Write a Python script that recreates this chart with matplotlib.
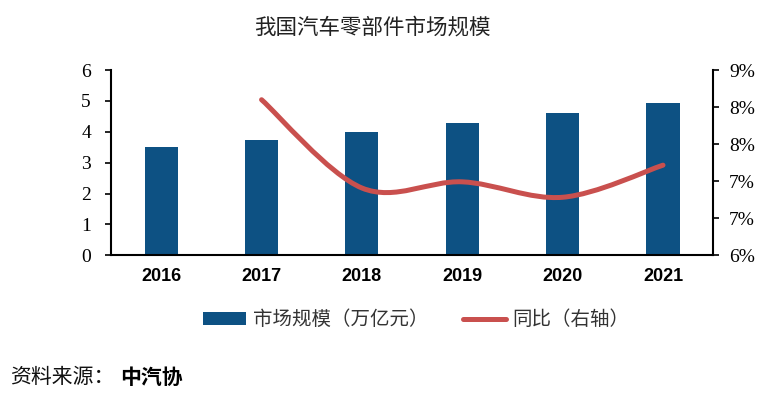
import matplotlib
matplotlib.use("Agg")
import matplotlib.pyplot as plt
from matplotlib.path import Path
from matplotlib.patches import PathPatch
from matplotlib.lines import Line2D
from matplotlib.patches import Patch
import numpy as np

plt.rcParams['font.family'] = ['Noto Sans CJK SC', 'DejaVu Sans']

years = ['2016', '2017', '2018', '2019', '2020', '2021']
market_size = [3.5, 3.75, 4.0, 4.3, 4.6, 4.92]
yoy_years = ['2017', '2018', '2019', '2020', '2021']
yoy = [8.52, 7.09, 7.19, 6.94, 7.46]
left_ticks = [0, 1, 2, 3, 4, 5, 6]
right_ticks = [6.0, 6.6, 7.2, 7.8, 8.4, 9.0]
right_labels = ['6%', '7%', '7%', '8%', '8%', '9%']

bar_color = '#0D5183'
line_color = '#C9504E'

fig = plt.figure(figsize=(7.71, 3.96), dpi=100)
ax = fig.add_axes([0.144, 0.3553, 0.781, 0.4677])
ax2 = ax.twinx()

x = np.arange(len(years))
ax.bar(x, market_size, width=0.33, color=bar_color, zorder=2)
ax.set_xlim(-0.5, len(years) - 0.5)
ax.set_ylim(0, 6)
ax.set_yticks(left_ticks)
ax.set_yticklabels([str(t) for t in left_ticks], fontfamily='Liberation Serif', fontsize=14)
ax.set_xticks(x)
ax.set_xticklabels(years, fontfamily='Liberation Sans', fontweight='bold', fontsize=13)
ax.tick_params(axis='x', length=0, pad=9)
ax.tick_params(axis='y', direction='out', length=4.5, width=1.2, pad=10)

# smoothed line (Bezier through data points)
lx = np.array([years.index(y) for y in yoy_years], dtype=float)
ly = np.array(yoy, dtype=float)
verts = [(lx[0], ly[0])]
codes = [Path.MOVETO]
n = len(lx)
for i in range(n - 1):
    p0 = np.array([lx[max(i - 1, 0)], ly[max(i - 1, 0)]])
    p1 = np.array([lx[i], ly[i]])
    p2 = np.array([lx[i + 1], ly[i + 1]])
    p3 = np.array([lx[min(i + 2, n - 1)], ly[min(i + 2, n - 1)]])
    c1 = p1 + (p2 - p0) / 6.0
    c2 = p2 - (p3 - p1) / 6.0
    verts += [tuple(c1), tuple(c2), tuple(p2)]
    codes += [Path.CURVE4] * 3
path = Path(verts, codes)
ax2.add_patch(PathPatch(path, facecolor='none', edgecolor=line_color, lw=3.6,
                        capstyle='round', joinstyle='round', zorder=3))
ax2.set_ylim(6, 9)
ax2.set_yticks(right_ticks)
ax2.set_yticklabels(right_labels, fontfamily='Liberation Serif', fontsize=14)
ax2.tick_params(axis='y', direction='out', length=4.5, width=1.2, pad=7)

for a in (ax, ax2):
    a.spines['top'].set_visible(False)
    for s in ('left', 'right', 'bottom'):
        a.spines[s].set_linewidth(1.5)
        a.spines[s].set_color('black')
ax.spines['right'].set_visible(False)
ax2.spines['left'].set_visible(False)
ax2.spines['bottom'].set_visible(False)

fig.text(0.4825, 0.930, '我国汽车零部件市场规模', ha='center', va='center',
         fontsize=15.5, color='#222222')

handles = [Patch(facecolor=bar_color, edgecolor='none'),
           Line2D([0], [0], color=line_color, lw=3.6, solid_capstyle='round')]
leg = fig.legend(handles, ['市场规模（万亿元）', '同比（右轴）'], loc='center',
                 bbox_to_anchor=(0.540, 0.192), ncol=2, frameon=False,
                 fontsize=14, handlelength=2.2, handleheight=0.6,
                 handletextpad=0.35, columnspacing=1.8)
for t in leg.get_texts():
    t.set_color('#333333')

fig.text(0.013, 0.048, '资料来源：', ha='left', va='center', fontsize=15, color='#111111')
fig.text(0.156, 0.048, '中汽协', ha='left', va='center', fontsize=15,
         fontweight='bold', color='black')

fig.savefig('out.png', dpi=100)
